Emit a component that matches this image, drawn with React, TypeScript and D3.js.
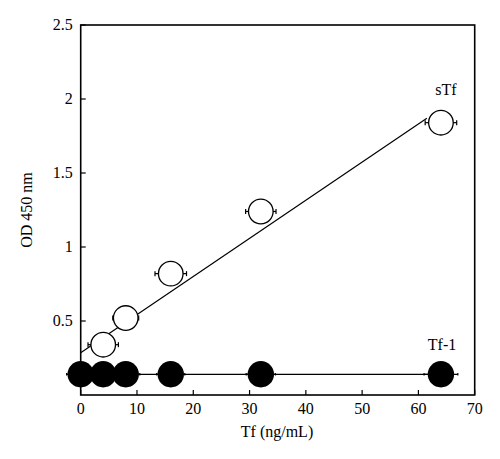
import React from 'react';
import * as d3 from 'd3';

// sTf series (open circles)
const sTfX = [4, 8, 16, 32, 64];
const sTfY = [0.34, 0.52, 0.82, 1.24, 1.84];
const sTfErr = [2.7, 2.3, 2.8, 2.7, 2.8];
// Tf-1 series (filled circles)
const tf1X = [0, 4, 8, 16, 32, 64];
const tf1Y = [0.14, 0.14, 0.14, 0.14, 0.14, 0.14];
const tf1Err = [2.5, 2.5, 2.5, 2.5, 2.6, 3];
// fitted lines
const sTfFitX = [0, 61.5];
const sTfFitY = [0.286, 1.87];
const tf1FitX = [0, 64];
const tf1FitY = [0.14, 0.14];

const xTicks = [0, 10, 20, 30, 40, 50, 60, 70];
const yTicks = [0.5, 1, 1.5, 2, 2.5];

const FONT = '"Liberation Serif", "DejaVu Serif", serif';

export default function App() {
  const x = d3.scaleLinear().domain([0, 70]).range([80.7, 474.7]);
  const y = d3.scaleLinear().domain([0, 2.5]).range([395, 25]);
  const line = d3.line<[number, number]>().x(d => x(d[0])).y(d => y(d[1]));

  const sTfFit = sTfFitX.map((v, i) => [v, sTfFitY[i]] as [number, number]);
  const tf1Fit = tf1FitX.map((v, i) => [v, tf1FitY[i]] as [number, number]);

  const errBar = (cx: number, cy: number, e: number, cap: number, key: string) => (
    <g key={key} stroke="#000" strokeWidth={1.2}>
      <line x1={x(cx - e)} x2={x(cx + e)} y1={y(cy)} y2={y(cy)} />
      <line x1={x(cx - e)} x2={x(cx - e)} y1={y(cy) - cap} y2={y(cy) + cap} />
      <line x1={x(cx + e)} x2={x(cx + e)} y1={y(cy) - cap} y2={y(cy) + cap} />
    </g>
  );

  return (
    <svg width={500} height={459} style={{ position: 'absolute', left: 0, top: 0, background: '#fff' }}>
      {/* frame */}
      <rect x={x(0)} y={y(2.5)} width={x(70) - x(0)} height={y(0) - y(2.5)} fill="none" stroke="#000" strokeWidth={1.6} />

      {/* x ticks (inward) */}
      {xTicks.map(t => (
        <g key={'xt' + t}>
          <line x1={x(t)} x2={x(t)} y1={y(0)} y2={y(0) - 5} stroke="#000" strokeWidth={1.2} />
          <text x={x(t)} y={y(0) + 18.5} textAnchor="middle" fontFamily={FONT} fontSize={16}>{t}</text>
        </g>
      ))}
      {/* y ticks (inward) */}
      {yTicks.map(t => (
        <g key={'yt' + t}>
          <line x1={x(0)} x2={x(0) + 5} y1={y(t)} y2={y(t)} stroke="#000" strokeWidth={1.2} />
          <text x={x(0) - 8} y={y(t) + 5} textAnchor="end" fontFamily={FONT} fontSize={16}>{t}</text>
        </g>
      ))}

      <text x={277} y={437} textAnchor="middle" fontFamily={FONT} fontSize={16}>Tf (ng/mL)</text>
      <text transform="translate(32,210) rotate(-90)" textAnchor="middle" fontFamily={FONT} fontSize={16}>OD 450 nm</text>

      {/* fitted lines */}
      <path d={line(sTfFit) || ''} fill="none" stroke="#000" strokeWidth={1.2} />
      <path d={line(tf1Fit) || ''} fill="none" stroke="#000" strokeWidth={1.2} />

      {/* error bars */}
      {tf1X.map((v, i) => errBar(v, tf1Y[i], tf1Err[i], 1.2, 'te' + i))}
      {sTfX.map((v, i) => errBar(v, sTfY[i], sTfErr[i], 2.5, 'se' + i))}

      {/* points */}
      {tf1X.map((v, i) => (
        <circle key={'tp' + i} cx={x(v)} cy={y(tf1Y[i])} r={13.2} fill="#000" />
      ))}
      {sTfX.map((v, i) => (
        <circle key={'sp' + i} cx={x(v)} cy={y(sTfY[i])} r={12.3} fill="#fff" stroke="#000" strokeWidth={1.3} />
      ))}

      <text x={446} y={95} textAnchor="middle" fontFamily={FONT} fontSize={16}>sTf</text>
      <text x={442} y={350} textAnchor="middle" fontFamily={FONT} fontSize={16}>Tf-1</text>
    </svg>
  );
}
